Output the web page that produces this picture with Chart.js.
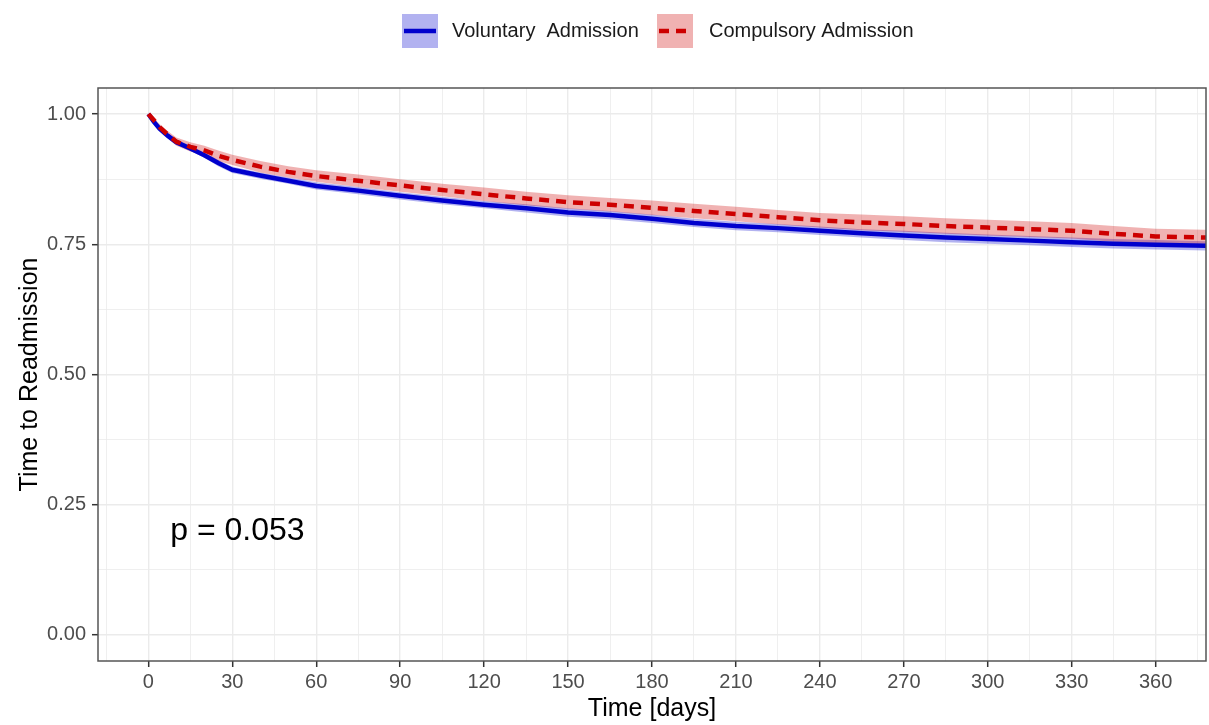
<!DOCTYPE html>
<html>
<head>
<meta charset="utf-8">
<script src="https://cdn.jsdelivr.net/npm/chart.js@4"></script>
<style>
  html, body { margin: 0; padding: 0; background: #fff; }
  #wrap { width: 1209px; height: 725px; position: relative; }
</style>
</head>
<body>
<div id="wrap"><canvas id="km"></canvas></div>
<script>
// time points (days)
const days = [0, 2, 4, 7, 10, 15, 20, 25, 30, 40, 50, 60, 75, 90, 105, 120, 135, 150, 165, 180,
  195, 210, 225, 240, 255, 270, 285, 300, 315, 330, 345, 360, 378];

// Voluntary admission: survival estimate and confidence band
const voluntarySurv = [1.000, 0.985, 0.972, 0.958, 0.946, 0.934, 0.921, 0.906, 0.893, 0.882, 0.872, 0.862,
  0.853, 0.843, 0.834, 0.826, 0.819, 0.811, 0.806, 0.799, 0.791, 0.785, 0.781, 0.776, 0.771, 0.767,
  0.763, 0.760, 0.757, 0.754, 0.751, 0.749, 0.747];
const voluntaryLower = [1.000, 0.982, 0.968, 0.954, 0.941, 0.929, 0.916, 0.900, 0.887, 0.876, 0.866, 0.855,
  0.846, 0.836, 0.827, 0.819, 0.811, 0.803, 0.798, 0.791, 0.783, 0.777, 0.773, 0.768, 0.763, 0.758,
  0.754, 0.751, 0.748, 0.745, 0.742, 0.740, 0.738];
const voluntaryUpper = [1.000, 0.988, 0.976, 0.962, 0.951, 0.939, 0.926, 0.912, 0.899, 0.888, 0.878, 0.869,
  0.860, 0.850, 0.841, 0.833, 0.827, 0.819, 0.814, 0.807, 0.799, 0.793, 0.789, 0.784, 0.779, 0.776,
  0.772, 0.769, 0.766, 0.763, 0.760, 0.758, 0.756];

// Compulsory admission
const compulsorySurv = [1.000, 0.988, 0.975, 0.960, 0.947, 0.937, 0.930, 0.920, 0.912, 0.899, 0.889, 0.881,
  0.872, 0.863, 0.854, 0.846, 0.838, 0.831, 0.826, 0.820, 0.814, 0.808, 0.802, 0.796, 0.792, 0.789,
  0.785, 0.782, 0.779, 0.776, 0.770, 0.765, 0.763];
const compulsoryLower = [1.000, 0.984, 0.969, 0.953, 0.939, 0.928, 0.921, 0.910, 0.902, 0.888, 0.878, 0.870,
  0.860, 0.851, 0.842, 0.833, 0.825, 0.818, 0.813, 0.806, 0.800, 0.794, 0.788, 0.782, 0.777, 0.774,
  0.770, 0.767, 0.764, 0.761, 0.755, 0.750, 0.748];
const compulsoryUpper = [1.000, 0.992, 0.981, 0.967, 0.955, 0.946, 0.939, 0.930, 0.922, 0.910, 0.900, 0.892,
  0.884, 0.875, 0.866, 0.859, 0.851, 0.844, 0.839, 0.834, 0.828, 0.822, 0.816, 0.810, 0.807, 0.804,
  0.800, 0.797, 0.794, 0.791, 0.785, 0.780, 0.778];

// axis ticks (grid every 15 days / 0.125, labels on majors)
const xTicks = [-15, 0, 15, 30, 45, 60, 75, 90, 105, 120, 135, 150, 165, 180, 195, 210, 225, 240,
  255, 270, 285, 300, 315, 330, 345, 360, 375];
const yTicks = [0, 0.125, 0.25, 0.375, 0.5, 0.625, 0.75, 0.875, 1];

const seriesNames = ['Voluntary  Admission', 'Compulsory Admission'];
const pValueText = 'p = 0.053';

const FONT = '"Liberation Sans", Arial, Helvetica, sans-serif';
const BLUE = '#0000cd', RED = '#cd0000';
const BLUE_FILL = 'rgba(0,0,205,0.3)', RED_FILL = 'rgba(205,0,0,0.3)';

const pts = arr => days.map((d, i) => ({ x: d, y: arr[i] }));

const decorations = {
  id: 'decorations',
  afterDraw(chart) {
    const { ctx, chartArea: a, scales: { x, y } } = chart;
    ctx.save();
    // panel border
    ctx.strokeStyle = '#555';
    ctx.lineWidth = 1.5;
    ctx.strokeRect(a.left, a.top, a.right - a.left, a.bottom - a.top);

    // p-value annotation
    ctx.fillStyle = '#000';
    ctx.font = '32px ' + FONT;
    ctx.textAlign = 'left';
    ctx.textBaseline = 'alphabetic';
    ctx.fillText(pValueText, x.getPixelForValue(7.8), y.getPixelForValue(0.183));

    // axis titles
    ctx.font = '25px ' + FONT;
    ctx.textAlign = 'center';
    ctx.textBaseline = 'middle';
    ctx.fillText('Time [days]', (a.left + a.right) / 2, 709);
    ctx.save();
    ctx.translate(30, (a.top + a.bottom) / 2);
    ctx.rotate(-Math.PI / 2);
    ctx.fillText('Time to Readmission', 0, 0);
    ctx.restore();

    // legend
    const keys = [
      { x: 402, fill: BLUE_FILL, line: BLUE, dash: [], text: seriesNames[0], tx: 452 },
      { x: 657, fill: RED_FILL, line: RED, dash: [10, 7], text: seriesNames[1], tx: 709 }
    ];
    ctx.font = '20px ' + FONT;
    ctx.textAlign = 'left';
    keys.forEach(k => {
      ctx.fillStyle = k.fill;
      ctx.fillRect(k.x, 14, 36, 34);
      ctx.strokeStyle = k.line;
      ctx.lineWidth = 4.5;
      ctx.setLineDash(k.dash);
      ctx.beginPath();
      ctx.moveTo(k.x + 2, 31);
      ctx.lineTo(k.x + 34, 31);
      ctx.stroke();
      ctx.setLineDash([]);
      ctx.fillStyle = '#1a1a1a';
      ctx.fillText(k.text, k.tx, 31);
    });
    ctx.restore();
  }
};

new Chart(document.getElementById('km'), {
  type: 'line',
  data: {
    datasets: [
      { label: 'Compulsory', data: pts(compulsorySurv), borderColor: RED, borderWidth: 4.5,
        borderDash: [10, 7], pointRadius: 0, fill: false, order: 0 },
      { label: 'Voluntary', data: pts(voluntarySurv), borderColor: BLUE, borderWidth: 4.5,
        pointRadius: 0, fill: false, order: 1 },
      { label: 'cu', data: pts(compulsoryUpper), borderWidth: 0, pointRadius: 0,
        backgroundColor: RED_FILL, fill: '+1', order: 2 },
      { label: 'cl', data: pts(compulsoryLower), borderWidth: 0, pointRadius: 0, fill: false, order: 3 },
      { label: 'vu', data: pts(voluntaryUpper), borderWidth: 0, pointRadius: 0,
        backgroundColor: BLUE_FILL, fill: '+1', order: 4 },
      { label: 'vl', data: pts(voluntaryLower), borderWidth: 0, pointRadius: 0, fill: false, order: 5 }
    ]
  },
  options: {
    responsive: true,
    maintainAspectRatio: false,
    animation: false,
    layout: { padding: { left: 0, top: 88, right: 3, bottom: 0 } },
    plugins: { legend: { display: false }, tooltip: { enabled: false } },
    scales: {
      x: {
        type: 'linear', min: -18, max: 378,
        afterBuildTicks: s => { s.ticks = xTicks.map(v => ({ value: v })); },
        afterFit: s => { s.height = 64; },
        border: { display: false },
        grid: {
          color: '#ebebeb',
          lineWidth: c => (c.tick && c.tick.value % 30 === 0) ? 1.4 : 0.8,
          tickColor: c => (c.tick && c.tick.value % 30 === 0) ? '#333' : 'rgba(0,0,0,0)',
          tickLength: 6, tickWidth: 1.5
        },
        ticks: {
          autoSkip: false, maxRotation: 0, padding: 3, color: '#4d4d4d',
          font: { size: 20, family: FONT },
          callback: v => v % 30 === 0 ? String(v) : ''
        }
      },
      y: {
        type: 'linear', min: -0.05, max: 1.05,
        afterBuildTicks: s => { s.ticks = yTicks.map(v => ({ value: v })); },
        afterFit: s => { s.width = 98; },
        border: { display: false },
        grid: {
          color: '#ebebeb',
          lineWidth: c => (c.tick && (c.tick.value * 4) % 1 === 0) ? 1.4 : 0.8,
          tickColor: c => (c.tick && (c.tick.value * 4) % 1 === 0) ? '#333' : 'rgba(0,0,0,0)',
          tickLength: 6, tickWidth: 1.5
        },
        ticks: {
          autoSkip: false, padding: 6, color: '#4d4d4d',
          font: { size: 20, family: FONT },
          callback: v => (v * 4) % 1 === 0 ? v.toFixed(2) : ''
        }
      }
    }
  },
  plugins: [decorations]
});
</script>
</body>
</html>
